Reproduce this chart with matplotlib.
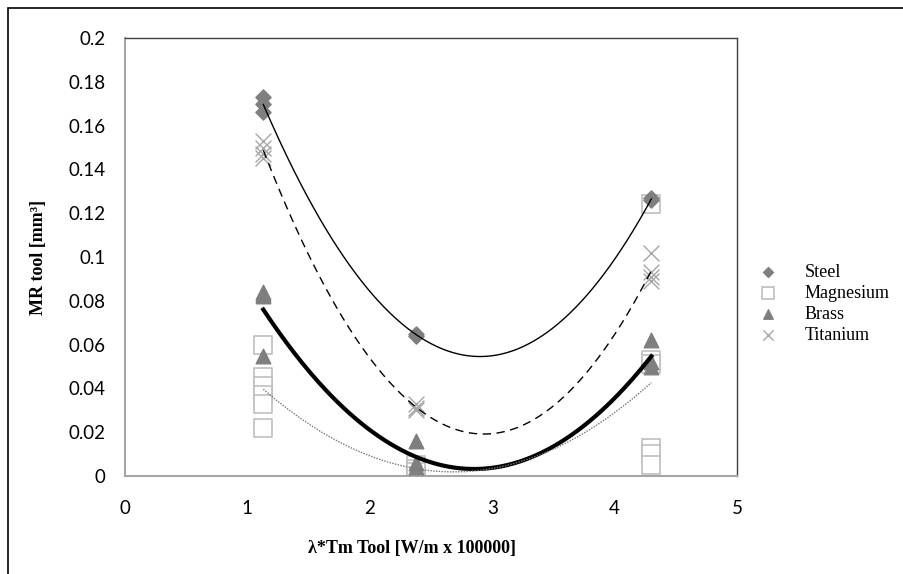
import numpy as np
import matplotlib
matplotlib.use("Agg")
import matplotlib.pyplot as plt
from matplotlib.patches import Rectangle

# group x positions (lambda*Tm tool)
x_steel = [1.13, 1.13, 1.13, 2.38, 2.38, 4.3, 4.3]
y_steel = [0.173, 0.170, 0.166, 0.065, 0.064, 0.127, 0.126]

x_mag = [1.13, 1.13, 1.13, 1.13, 1.13, 1.13, 2.38, 2.38, 2.38, 4.3, 4.3, 4.3, 4.3, 4.3, 4.3]
y_mag = [0.060, 0.045, 0.041, 0.037, 0.033, 0.022, 0.005, 0.003, 0.002,
         0.124, 0.053, 0.051, 0.013, 0.010, 0.005]

x_brass = [1.13, 1.13, 1.13, 1.13, 2.38, 2.38, 2.38, 4.3, 4.3, 4.3]
y_brass = [0.084, 0.083, 0.082, 0.055, 0.016, 0.006, 0.004, 0.062, 0.052, 0.050]

x_ti = [1.13, 1.13, 1.13, 1.13, 2.38, 2.38, 2.38, 4.3, 4.3, 4.3, 4.3]
y_ti = [0.153, 0.150, 0.147, 0.145, 0.033, 0.031, 0.030, 0.102, 0.093, 0.091, 0.089]

serif = "Liberation Serif"
sans = "Lato"

fig = plt.figure(figsize=(9.04, 5.74), dpi=100)
W, H = 904, 574
ax = fig.add_axes([125 / W, 1 - 476 / H, (737 - 125) / W, (476 - 38) / H])

# outer chart border
fig.patches.append(Rectangle((8 / W, -0.01), 1.0, 1 - 8 / H + 0.01, transform=fig.transFigure,
                             fill=False, edgecolor="black", linewidth=1.2))

gray = "#7f7f7f"
light = "#bfbfbf"
ax.scatter(x_steel, y_steel, marker="D", s=60, color=gray, zorder=3, label="Steel")
ax.scatter(x_mag, y_mag, marker="s", s=150, facecolor="white", edgecolor=light,
           linewidths=1.2, zorder=2, label="Magnesium")
ax.scatter(x_brass, y_brass, marker="^", s=110, color=gray, zorder=3, label="Brass")
ax.scatter(x_ti, y_ti, marker="x", s=130, color="#a6a6a6", linewidths=1.0, zorder=2,
           label="Titanium")

# 2nd order trend lines, as in the spreadsheet
xs = np.linspace(1.13, 4.3, 200)
for xd, yd, style in [(x_steel, y_steel, dict(color="black", lw=1.0, ls="-")),
                      (x_ti, y_ti, dict(color="black", lw=1.0, ls=(0, (6, 4)))),
                      (x_brass, y_brass, dict(color="black", lw=3.0, ls="-")),
                      (x_mag, y_mag, dict(color="#777777", lw=1.0, ls=(0, (1, 1))))]:
    c = np.polyfit(xd, yd, 2)
    ax.plot(xs, np.polyval(c, xs), zorder=4, **style)

ax.set_xlim(0, 5)
ax.set_ylim(0, 0.2)
ax.set_xticks([0, 1, 2, 3, 4, 5])
ax.set_xticklabels(["0", "1", "2", "3", "4", "5"])
ax.set_yticks(np.arange(0, 0.201, 0.02))
ax.set_yticklabels(["0", "0.02", "0.04", "0.06", "0.08", "0.1", "0.12", "0.14",
                    "0.16", "0.18", "0.2"])
ax.tick_params(length=0, labelsize=13.5, pad=14)
ax.tick_params(axis="x", pad=17)
for t in ax.get_xticklabels() + ax.get_yticklabels():
    t.set_fontfamily(sans)
for s in ["left", "bottom"]:
    ax.spines[s].set_color("#a6a6a6")
    ax.spines[s].set_linewidth(1.5)
for s in ["top", "right"]:
    ax.spines[s].set_color("#404040")
    ax.spines[s].set_linewidth(1.0)

fig.text(38 / W, 1 - 257 / H, "MR tool [mm³]", rotation=90, ha="center", va="center",
         fontfamily=serif, fontweight="bold", fontsize=13)
fig.text(412 / W, 1 - 548 / H, "λ*Tm Tool [W/m x 100000]", ha="center", va="center",
         fontfamily=serif, fontweight="bold", fontsize=13)

leg = fig.legend(loc="upper left", bbox_to_anchor=(743 / W, 1 - 257 / H), frameon=False,
                 prop={"family": serif, "size": 13}, handletextpad=1.0, labelspacing=0.22,
                 scatterpoints=1, markerscale=0.65, borderaxespad=0)

fig.savefig("out.png", dpi=100)
